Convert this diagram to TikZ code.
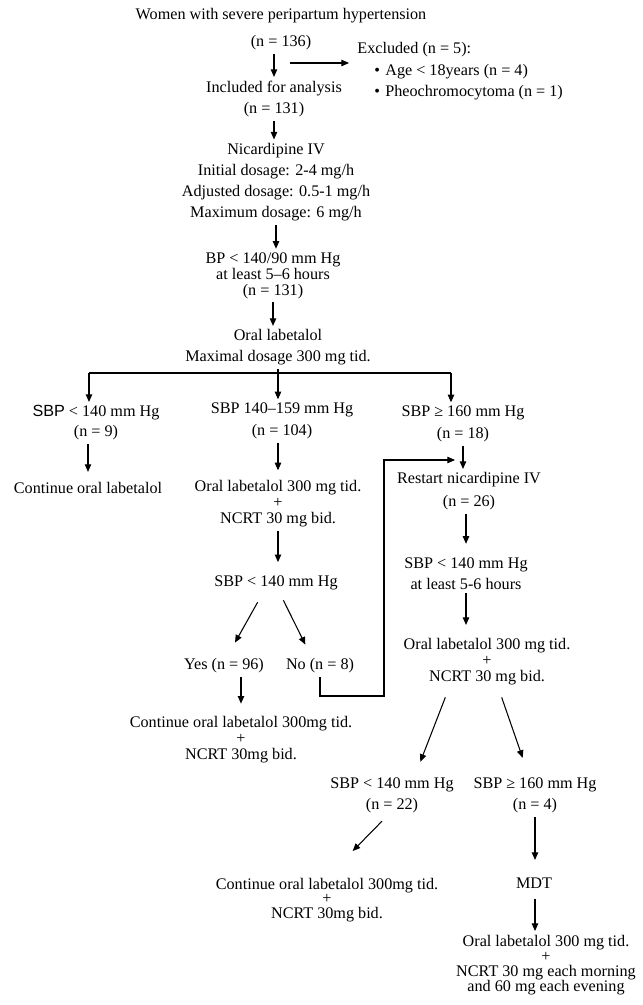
\documentclass[tikz,border=0pt]{standalone}
\usepackage{fontspec}
\setmainfont{Liberation Serif}
\setsansfont{Liberation Sans}
\usetikzlibrary{arrows.meta}

\begin{document}
\begin{tikzpicture}[x=0.03cm,y=-0.03cm,
    arr/.style={-{Triangle[length=6.5pt,width=5.5pt]},line width=0.9pt},
    plain/.style={line width=0.9pt}]
      \useasboundingbox (0,0) rectangle (642,1005);
      \begin{scope}[every node/.style={align=center,inner sep=3pt,
          font=\fontsize{13.8}{13.6}\selectfont}]
        \node (Start) at (281,29) {Women with severe peripartum hypertension\\[10pt](n = 136)};
        \node (Incl) at (274,99) {Included for analysis\\[5pt](n = 131)};
        \node (Excl) [align=left,anchor=west,inner xsep=7pt] at (349,71.5) {Excluded (n = 5):\\[4.7pt]
          \hspace*{14.5pt}\textbullet\hspace{4.5pt}Age < 18years (n = 4)\\[4.7pt]
          \hspace*{14.5pt}\textbullet\hspace{4.5pt}Pheochromocytoma (n = 1)};
        \node (Nicar) at (276,182) {Nicardipine IV\\[4.3pt]Initial dosage: 2-4 mg/h\\[4.3pt]
          Adjusted dosage: 0.5-1 mg/h\\[4.3pt]Maximum dosage: 6 mg/h};
        \node (Bp) at (273,275.5) {BP < 140/90 mm Hg\\at least 5–6 hours\\(n = 131)};
        \node (Oral) at (278,347.5) {Oral labetalol\\[4.3pt]Maximal dosage 300 mg tid.};
        \node (SbpA) at (96,423) {\textsf{SBP} < 140 mm Hg\\[3.4pt](n = 9)};
        \node (ContA) at (88,488) {Continue oral labetalol};
        \node (SbpB) at (282,421) {SBP 140–159 mm Hg\\[5pt](n = 104)};
        \node (OlB) at (278,504) {Oral labetalol 300 mg tid.\\+\\NCRT 30 mg bid.};
        \node (SbpC) at (276,583) {SBP < 140 mm Hg};
        \node (Yes) at (224,666) {Yes (n = 96)};
        \node (No) at (320,666) {No (n = 8)};
        \node (ContB) at (241,740) {Continue oral labetalol 300mg tid.\\+\\NCRT 30mg bid.};
        \node (SbpD) at (463,424) {SBP ≥ 160 mm Hg\\[5pt](n = 18)};
        \node (Restart) at (469,491.5) {Restart nicardipine IV\\[6pt](n = 26)};
        \node (SbpE) at (466,573.5) {SBP < 140 mm Hg\\[4.3pt]at least 5-6 hours};
        \node (OlE) at (487,662) {Oral labetalol 300 mg tid.\\+\\NCRT 30 mg bid.};
        \node (SbpF) at (392,795.5) {SBP < 140 mm Hg\\[4.3pt](n = 22)};
        \node (SbpG) at (535,795.5) {SBP ≥ 160 mm Hg\\[4.3pt](n = 4)};
        \node (ContC) at (327,900) {Continue oral labetalol 300mg tid.\\[-1.2pt]+\\[-1.2pt]NCRT 30mg bid.};
        \node (Mdt) at (534,883) {MDT};
        \node (OlH) at (546,965) {Oral labetalol 300 mg tid.\\[-0.6pt]+\\[-0.6pt]
          NCRT 30 mg each morning\\[-0.6pt]and 60 mg each evening};
      \end{scope}
      \coordinate (Split) at (290,63);
      \coordinate (BranchL) at (89,373);
      \coordinate (BranchR) at (451,373);
      \coordinate (NoTurn) at (384,696);
      \coordinate (Merge) at (455,460);
      \begin{scope}[every edge/.style={draw,arr}]
        \path (Start.south -| Incl.north) edge (Incl.north);
        \path (Split) edge (Split -| Excl.west);
        \path (Incl.south) edge (Incl.south |- Nicar.north);
        \path (Nicar.south) edge (Nicar.south |- Bp.north);
        \path (Bp.south) edge (Bp.south |- Oral.north);
        \path (Oral.south) edge (Oral.south |- SbpB.north);
        \path (BranchL) edge (BranchL |- SbpA.north);
        \path (BranchR) edge (BranchR |- SbpD.north);
        \path (SbpA.south -| ContA) edge ([yshift=0.2cm]ContA.north);
        \path (SbpB.south -| OlB) edge ([yshift=0.2cm]OlB.north);
        \path (OlB.south) edge ([yshift=0.3cm]OlB.south |- SbpC.north);
        \path ([xshift=-0.55cm,yshift=-0.25cm]SbpC.south) edge ([xshift=0.33cm,yshift=0.37cm]Yes.north);
        \path ([xshift=0.22cm,yshift=-0.19cm]SbpC.south) edge ([xshift=-0.44cm,yshift=0.31cm]No.north);
        \path (Yes.south -| ContB) edge ([yshift=0.28cm]ContB.north);
        \path (SbpD.south) edge (SbpD.south |- Restart.north);
        \path (Restart.south -| SbpE) edge ([yshift=0.3cm]SbpE.north);
        \path (SbpE.south) edge ([yshift=0.3cm]SbpE.south |- OlE.north);
        \path ([xshift=-1.25cm,yshift=-0.25cm]OlE.south) edge ([xshift=0.85cm,yshift=0.37cm]SbpF.north);
        \path ([xshift=0.44cm,yshift=-0.25cm]OlE.south) edge ([xshift=-0.37cm,yshift=0.49cm]SbpG.north);
        \path ([xshift=-0.3cm,yshift=-0.13cm]SbpF.south) edge ([xshift=0.77cm,yshift=0.7cm]ContC.north);
        \path (SbpG.south) edge ([yshift=0.42cm]SbpG.south |- Mdt.north);
        \path ([yshift=-0.2cm]Mdt.south -| SbpG) edge (SbpG |- OlH.north);
      \end{scope}
      \draw[plain] (BranchL) -- (BranchR);
      \draw[arr] (No.south) |- (NoTurn) |- (Merge);
    \end{tikzpicture}
\end{document}
